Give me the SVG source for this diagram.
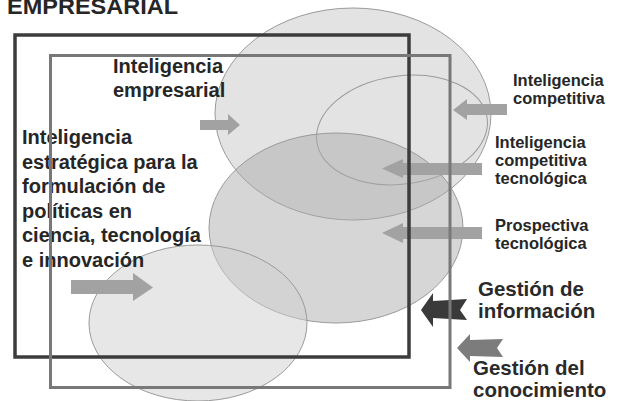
<svg xmlns="http://www.w3.org/2000/svg" width="617" height="401" viewBox="0 0 617 401">
<style>
.t{font-family:"Liberation Sans",Arial,sans-serif;font-weight:bold;fill:#262626}
.big{font-size:20px}
.sm{font-size:16.5px}
.gs{font-size:20.5px;fill:#2a2a2a}
.el{stroke:#9a9a9a;stroke-width:1}
.la{fill:#a2a2a2}
</style>
<rect width="617" height="401" fill="#ffffff"/>
<g id="title"><text class="t" x="7" y="14" font-size="22" textLength="171" lengthAdjust="spacingAndGlyphs">EMPRESARIAL</text></g>
<g id="ellipse-empresarial"><ellipse class="el" cx="353" cy="114" rx="138" ry="106" fill="#e3e3e3"/></g>
<g id="ellipse-competitiva"><ellipse class="el" cx="402" cy="130" rx="86" ry="54" fill="none" transform="rotate(-8 402 130)"/></g>
<g id="ellipse-tecnologica"><ellipse class="el" cx="336" cy="228" rx="127" ry="95" fill="#aaaaaa" fill-opacity="0.48"/></g>
<g id="ellipse-politicas"><ellipse class="el" cx="198" cy="323" rx="109" ry="78" fill="#d0d0d0" fill-opacity="0.5"/></g>
<g id="label-empresarial"><text class="t big"><tspan x="113" y="73">Inteligencia</tspan><tspan x="113" y="97">empresarial</tspan></text></g>
<g id="label-politicas"><text class="t big"><tspan x="22" y="144">Inteligencia</tspan><tspan x="22" y="169">estratégica para la</tspan><tspan x="22" y="193">formulación de</tspan><tspan x="22" y="218">políticas en</tspan><tspan x="22" y="242">ciencia, tecnología</tspan><tspan x="22" y="267">e innovación</tspan></text></g>
<g id="label-competitiva"><text class="t sm"><tspan x="513" y="86">Inteligencia</tspan><tspan x="513" y="104">competitiva</tspan></text></g>
<g id="label-ct"><text class="t sm"><tspan x="495" y="148">Inteligencia</tspan><tspan x="495" y="166">competitiva</tspan><tspan x="495" y="184">tecnológica</tspan></text></g>
<g id="label-prospectiva"><text class="t sm"><tspan x="495" y="231">Prospectiva</tspan><tspan x="495" y="249">tecnológica</tspan></text></g>
<g id="label-gi"><text class="t gs"><tspan x="478" y="296">Gestión de</tspan><tspan x="478" y="318">información</tspan></text></g>
<g id="label-gc"><text class="t gs"><tspan x="473" y="375">Gestión del</tspan><tspan x="473" y="397">conocimiento</tspan></text></g>
<g id="connectors">
<polygon class="la" points="200,120 228,120 228,114 240,125 228,135 228,130 200,130"/>
<polygon class="la" points="71,280 133,280 133,273 153,287.5 133,301 133,294 71,294"/>
<polygon class="la" points="507,104 467,104 467,99 453,110 467,120 467,115 507,115"/>
<polygon class="la" points="482,163 403,163 403,159 382,168.5 403,178 403,175 482,175"/>
<polygon class="la" points="482,227 403,227 403,223 382,233 403,243 403,239 482,239"/>
<polygon fill="#3a3a3a" points="467,299 433,301 433,293 421,310 433,327 433,318 467,320 460,310"/>
<polygon fill="#7c7c7c" points="503,339 470,340 470,334 457,348 470,362 470,356 503,357 497,348"/>
</g>
<g id="rect-empresarial"><rect x="15" y="35" width="394" height="322" fill="none" stroke="#3c3c3c" stroke-width="3.5"/></g>
<g id="rect-politicas"><rect x="50.5" y="55.5" width="399.5" height="332" fill="none" stroke="#787878" stroke-width="3"/></g>
</svg>
